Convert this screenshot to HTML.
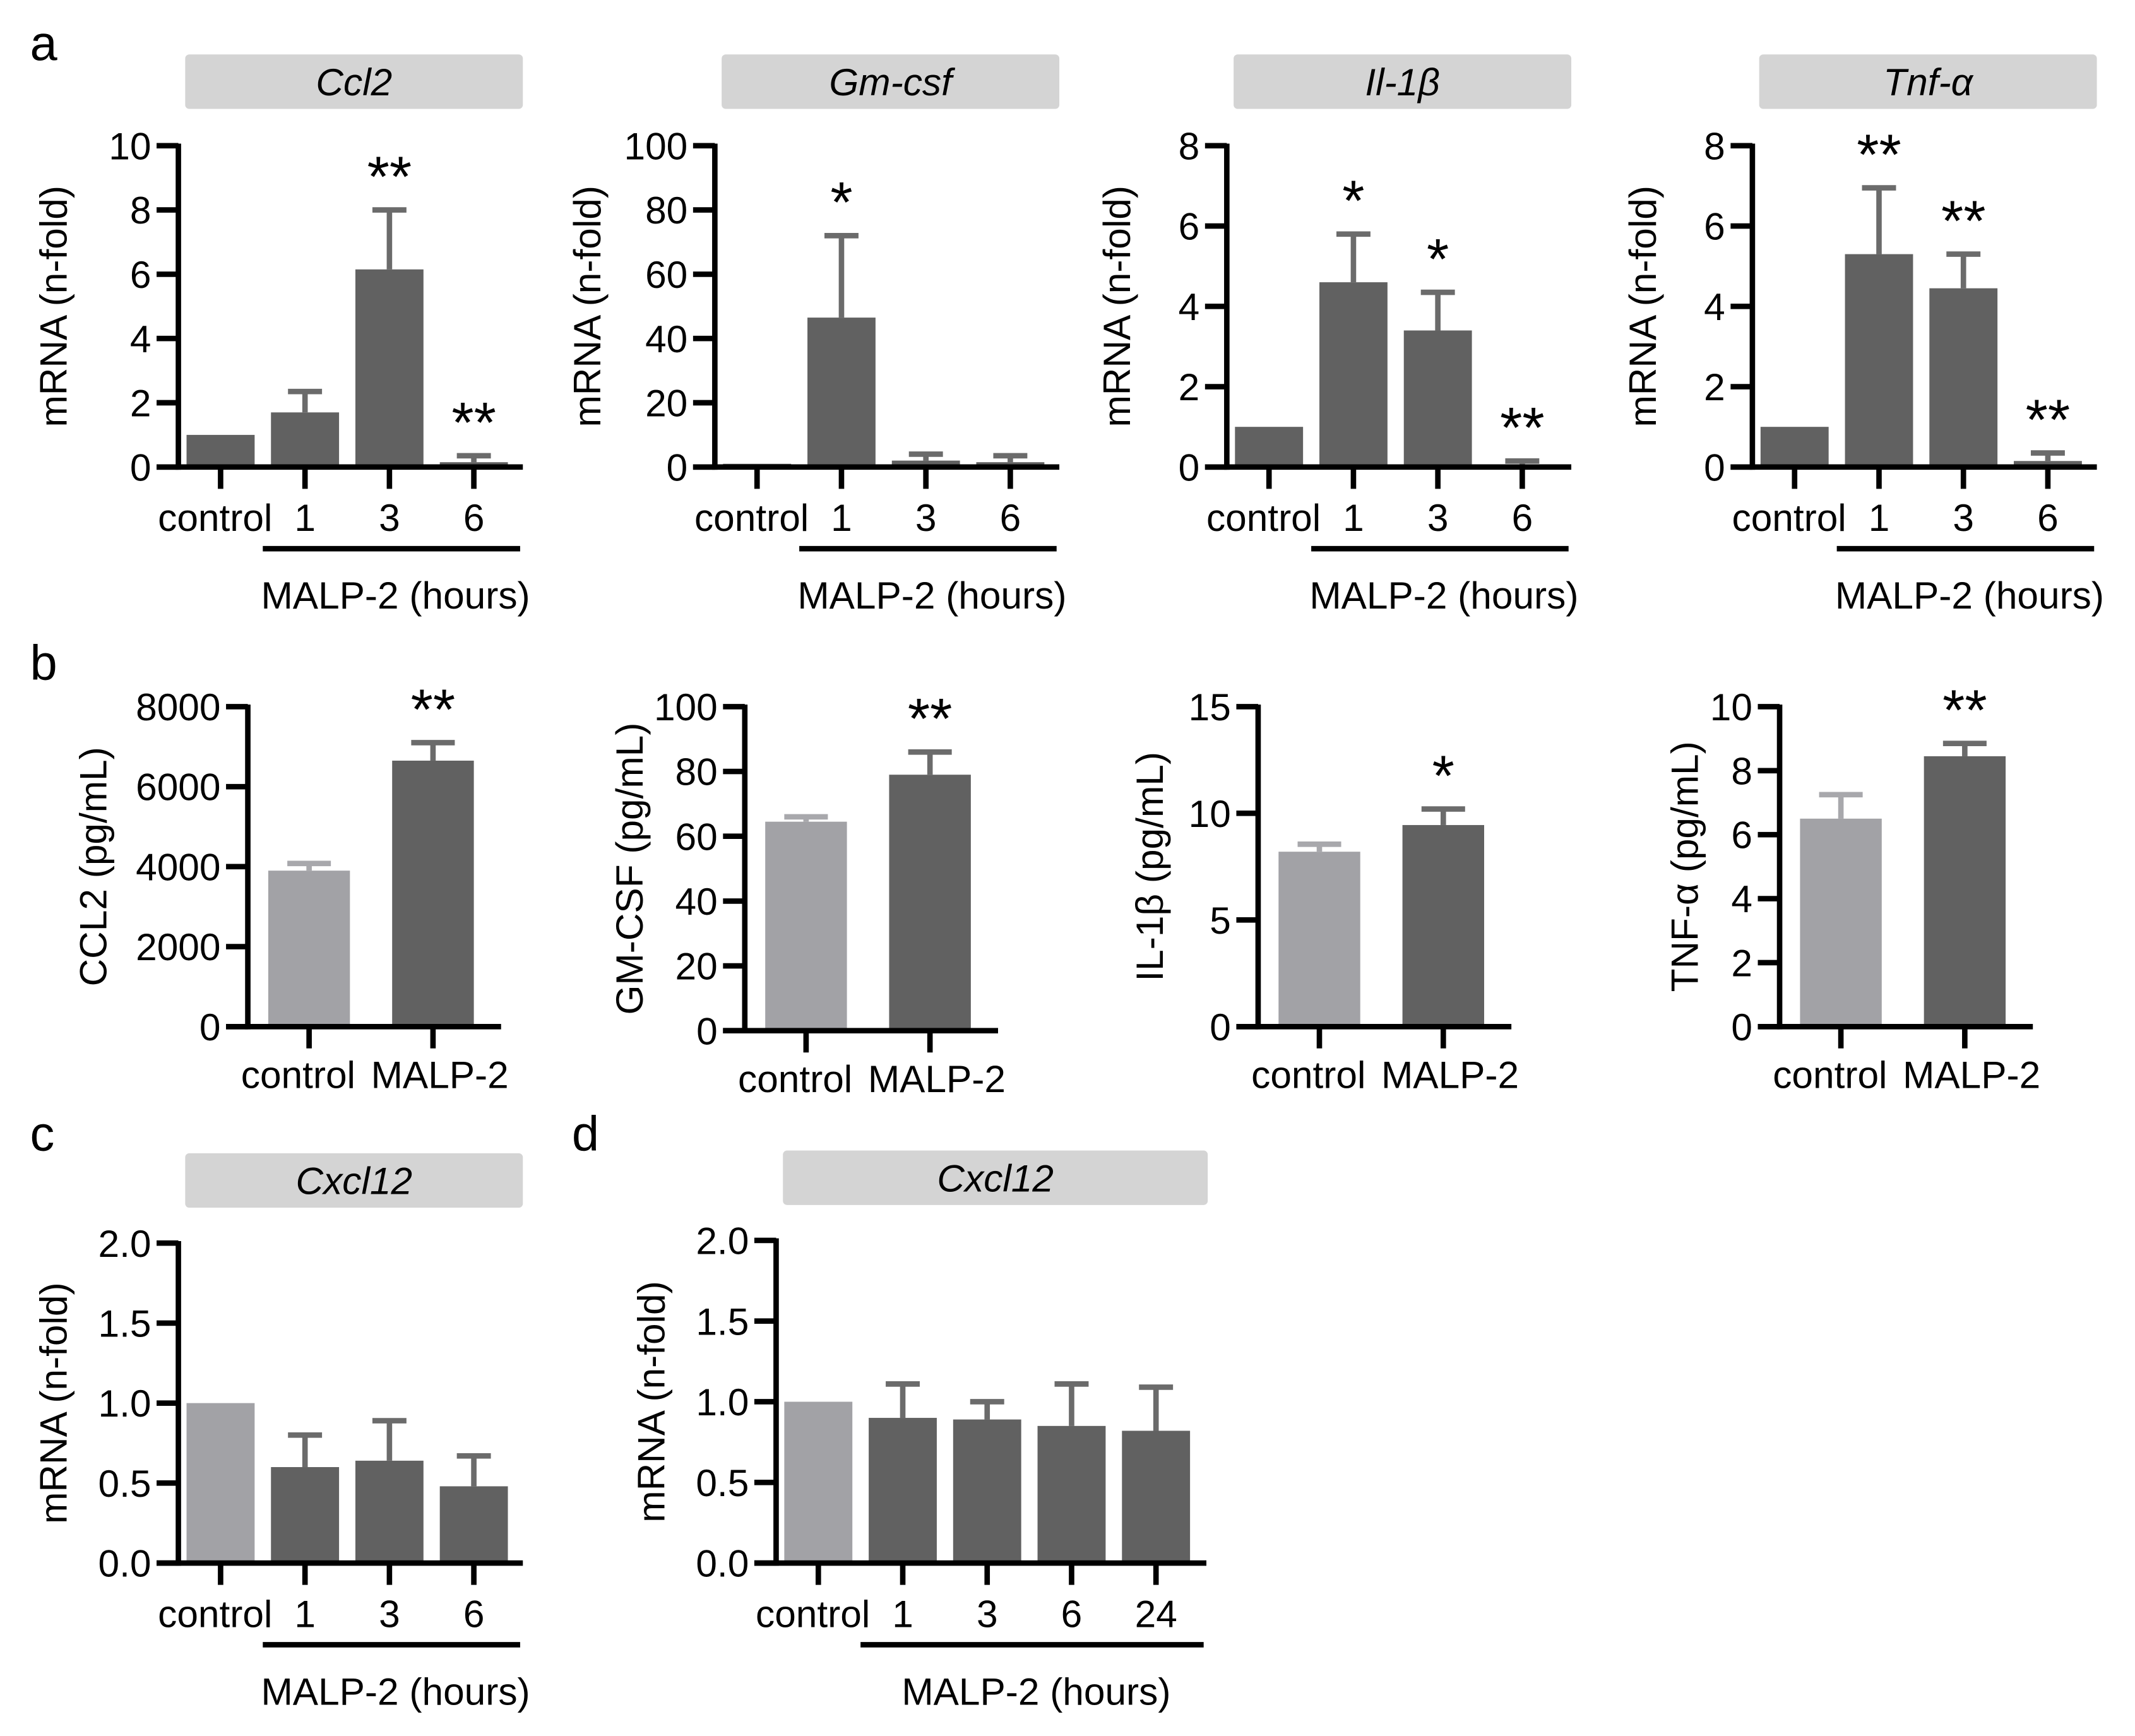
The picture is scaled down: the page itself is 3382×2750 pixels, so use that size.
<!DOCTYPE html>
<html><head><meta charset="utf-8"><style>
html,body{margin:0;padding:0;background:#fff}
svg{display:block}
text{font-family:"Liberation Sans",Arial,sans-serif;fill:#000}
</style></head><body>
<svg id="fig" xmlns="http://www.w3.org/2000/svg" width="3382" height="2750" viewBox="0 0 1568 1275">
<text x="22" y="44" font-size="36">a</text>
<text x="22" y="499" font-size="36">b</text>
<text x="22" y="845" font-size="36">c</text>
<text x="420" y="845" font-size="36">d</text>
</svg>
<script>
// ---- data ----
const timeCats = ["control","1","3","6"];
const timeCatsD = ["control","1","3","6","24"];
const elisaCats = ["control","MALP-2"];

const ccl2Values = [1, 1.7, 6.15, 0.15];
const ccl2Errors = [1, 2.35, 8.0, 0.35];
const ccl2Stars = ["", "", "**", "**"];
const ccl2Ticks = [0,2,4,6,8,10];

const gmcsfValues = [1, 46.5, 2, 1.5];
const gmcsfErrors = [1, 72, 4, 3.5];
const gmcsfStars = ["", "*", "", ""];
const gmcsfTicks = [0,20,40,60,80,100];

const il1bValues = [1, 4.6, 3.4, 0.05];
const il1bErrors = [1, 5.8, 4.35, 0.15];
const il1bStars = ["", "*", "*", "**"];
const il1bTicks = [0,2,4,6,8];

const tnfValues = [1, 5.3, 4.45, 0.15];
const tnfErrors = [1, 6.95, 5.3, 0.35];
const tnfStars = ["", "**", "**", "**"];
const tnfTicks = [0,2,4,6,8];

const ccl2ProtValues = [3900, 6650];
const ccl2ProtErrors = [4080, 7100];
const ccl2ProtTicks = [0,2000,4000,6000,8000];
const gmcsfProtValues = [64.5, 79];
const gmcsfProtErrors = [66, 86];
const gmcsfProtTicks = [0,20,40,60,80,100];
const il1bProtValues = [8.2, 9.45];
const il1bProtErrors = [8.55, 10.2];
const il1bProtTicks = [0,5,10,15];
const tnfProtValues = [6.5, 8.45];
const tnfProtErrors = [7.25, 8.85];
const tnfProtTicks = [0,2,4,6,8,10];
const protStarsA = ["", "**"];
const protStarsB = ["", "*"];

const cxclCValues = [1, 0.6, 0.64, 0.48];
const cxclCErrors = [1, 0.8, 0.89, 0.67];
const cxclDValues = [1, 0.9, 0.89, 0.85, 0.82];
const cxclDErrors = [1, 1.11, 1.0, 1.11, 1.09];
const cxclTicks = ["0.0","0.5","1.0","1.5","2.0"];

// ---- drawing ----
const NS = "http://www.w3.org/2000/svg";
const svg = document.getElementById("fig");
const DARK = "#616161", LIGHT = "#a2a2a6", ERRD = "#6b6b6b", ERRL = "#a8a8ac";

function mk(tag, attrs, parent) {
  const e = document.createElementNS(NS, tag);
  for (const k in attrs) e.setAttribute(k, attrs[k]);
  (parent || svg).appendChild(e);
  return e;
}

function chart(o) {
  const g = mk("g", {});
  
  
  const ticksNum = o.ticks.map(Number);
  const ymax = ticksNum[ticksNum.length - 1];
  const y = v => o.y0 - (Math.min(v, ymax * 1.05) / ymax) * (o.y0 - o.yTop);
  const xL = i => o.axisX + o.gap + i * o.pitch;
  const xC = i => xL(i) + o.bw / 2;
  if (o.header) {
    const h = mk("rect", {x: o.axisX + 5, y: o.hy, width: o.hw, height: 40, rx: 3, fill: "#d4d4d4"}, g);
    
    
    const ht = mk("text", {x: o.axisX + 5 + o.hw / 2, y: o.hy + 30, "font-size": 28, "font-style": "italic", "text-anchor": "middle"}, g);
    
    
    ht.textContent = o.header;
  }
  o.values.forEach((v, i) => {
    const light = o.lightIdx.includes(i);
    const top = y(v);
    const bar = mk("rect", {x: xL(i), y: top, width: o.bw, height: o.y0 - top, fill: light ? LIGHT : DARK}, g);
    
    
    const e = o.errors[i];
    if (e > v) {
      const ey = y(e);
      const col = light ? ERRL : ERRD;
      const el = mk("line", {x1: xC(i), x2: xC(i), y1: top, y2: ey, stroke: col, "stroke-width": 4}, g);
      
      
      const cap = mk("line", {x1: xC(i) - o.cap / 2, x2: xC(i) + o.cap / 2, y1: ey, y2: ey, stroke: col, "stroke-width": 4}, g);
      
      
    }
    if (o.stars && o.stars[i]) {
      const sy = (e > v ? y(e) : top) - 18;
      const st = mk("text", {x: xC(i), y: sy + 8, "font-size": 42, "text-anchor": "middle"}, g);
      
      
      st.textContent = o.stars[i];
    }
  });
  const ya = mk("line", {x1: o.axisX, x2: o.axisX, y1: o.yTop - 1.5, y2: o.y0 + 2, stroke: "#000", "stroke-width": 4}, g);
  
  
  const xa = mk("line", {x1: o.axisX - 16, x2: o.axisX + o.xLen, y1: o.y0, y2: o.y0, stroke: "#000", "stroke-width": 4}, g);
  
  
  o.ticks.forEach((t, k) => {
    const ty = y(ticksNum[k]);
    const tl = mk("line", {x1: o.axisX - 16, x2: o.axisX, y1: ty, y2: ty, stroke: "#000", "stroke-width": 4}, g);
    
    
    const tt = mk("text", {x: o.axisX - 20, y: ty + 10, "font-size": 28, "text-anchor": "end"}, g);
    
    
    tt.textContent = t;
  });
  o.cats.forEach((c, i) => {
    const tk = mk("line", {x1: xC(i), x2: xC(i), y1: o.y0, y2: o.y0 + 16, stroke: "#000", "stroke-width": 4}, g);
    
    
    let cx = xC(i), anchor = "middle";
    if (o.header && c === "control") { cx = xC(i) + 38; anchor = "end"; }
    else if (!o.header) { cx = xC(i) + (i === 0 ? -8 : 5); }
    const ct = mk("text", {x: cx, y: o.y0 + o.labDy, "font-size": 28, "text-anchor": anchor}, g);
    
    
    ct.textContent = c;
  });
  const yt = mk("text", {x: 0, y: 0, "font-size": 28, "text-anchor": "middle", transform: `translate(${o.axisX - o.titleDx},${(o.yTop + o.y0) / 2}) rotate(-90)`}, g);
  
  
  yt.textContent = o.ytitle;
  if (o.bracket) {
    const bx1 = xL(1) - 6, bx2 = o.axisX + o.xLen - 2;
    const bl = mk("line", {x1: bx1, x2: bx2, y1: o.y0 + 60, y2: o.y0 + 60, stroke: "#000", "stroke-width": 4}, g);
    
    
    const bt = mk("text", {x: (bx1 + bx2) / 2 + 3, y: o.y0 + 104, "font-size": 28, "text-anchor": "middle"}, g);
    
    
    bt.textContent = "MALP-2 (hours)";
  }
}

const aCommon = {yTop: 107, y0: 343, gap: 6, bw: 50, pitch: 62, cap: 25, xLen: 253, hy: 40, hw: 248,
  labDy: 47, lightIdx: [], bracket: true, ytitle: "mRNA (n-fold)", titleDx: 72, cats: timeCats};
chart(Object.assign({}, aCommon, {name: "chart-ccl2-mrna", axisX: 131, header: "Ccl2", values: ccl2Values, errors: ccl2Errors, stars: ccl2Stars, ticks: ccl2Ticks, titleDx: 82}));
chart(Object.assign({}, aCommon, {name: "chart-gmcsf-mrna", axisX: 525, header: "Gm-csf", values: gmcsfValues, errors: gmcsfErrors, stars: gmcsfStars, ticks: gmcsfTicks, titleDx: 84}));
chart(Object.assign({}, aCommon, {name: "chart-il1b-mrna", axisX: 901, header: "Il-1β", values: il1bValues, errors: il1bErrors, stars: il1bStars, ticks: il1bTicks, titleDx: 71}));
chart(Object.assign({}, aCommon, {name: "chart-tnfa-mrna", axisX: 1287, header: "Tnf-α", values: tnfValues, errors: tnfErrors, stars: tnfStars, ticks: tnfTicks, titleDx: 71}));

const bCommon = {yTop: 519, y0: 754, gap: 15, bw: 60, pitch: 91, cap: 32, xLen: 186, labDy: 45,
  lightIdx: [0], bracket: false, cats: elisaCats};
chart(Object.assign({}, bCommon, {name: "chart-ccl2-protein", axisX: 182, values: ccl2ProtValues, errors: ccl2ProtErrors, stars: protStarsA, ticks: ccl2ProtTicks, ytitle: "CCL2 (pg/mL)", titleDx: 104}));
chart(Object.assign({}, bCommon, {name: "chart-gmcsf-protein", axisX: 547, y0: 757, values: gmcsfProtValues, errors: gmcsfProtErrors, stars: protStarsA, ticks: gmcsfProtTicks, ytitle: "GM-CSF (pg/mL)", titleDx: 75}));
chart(Object.assign({}, bCommon, {name: "chart-il1b-protein", axisX: 924, values: il1bProtValues, errors: il1bProtErrors, stars: protStarsB, ticks: il1bProtTicks, ytitle: "IL-1β (pg/mL)", titleDx: 70}));
chart(Object.assign({}, bCommon, {name: "chart-tnfa-protein", axisX: 1307, values: tnfProtValues, errors: tnfProtErrors, stars: protStarsA, ticks: tnfProtTicks, ytitle: "TNF-α (pg/mL)", titleDx: 60}));

chart(Object.assign({}, aCommon, {name: "chart-cxcl12-c", axisX: 131, yTop: 913, y0: 1148, hy: 847, header: "Cxcl12", values: cxclCValues, errors: cxclCErrors, stars: null, ticks: cxclTicks, lightIdx: [0], titleDx: 82}));
chart(Object.assign({}, aCommon, {name: "chart-cxcl12-d", axisX: 570, yTop: 911, y0: 1148, hy: 845, hw: 312, xLen: 316, header: "Cxcl12", values: cxclDValues, errors: cxclDErrors, stars: null, ticks: cxclTicks, lightIdx: [0], cats: timeCatsD, titleDx: 82}));
</script>
</body></html>
